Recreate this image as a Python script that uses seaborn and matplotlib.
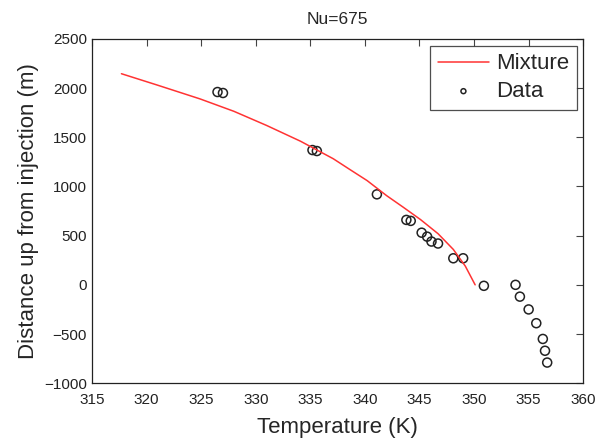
import matplotlib
matplotlib.use("Agg")
import matplotlib.pyplot as plt
import seaborn as sns
import pandas as pd

# Model curve (Mixture)
mix_temp = [317.7, 321.0, 324.9, 328.0, 331.0, 334.1, 337.1, 338.6, 340.2, 342.0, 343.5, 345.1, 346.7, 348.1, 349.2, 350.1]
mix_dist = [2146, 2030, 1890, 1764, 1620, 1460, 1282, 1174, 1060, 906, 790, 663, 520, 360, 190, 0]

# Measured data
data_temp = [326.5, 327.0, 335.2, 335.6, 341.1, 343.8, 344.2, 345.2, 345.7, 346.1, 346.7,
             348.1, 349.0, 350.9, 353.8, 354.2, 355.0, 355.7, 356.3, 356.5, 356.7]
data_dist = [1960, 1950, 1370, 1360, 920, 660, 650, 530, 490, 440, 420,
             270, 270, -10, 0, -120, -250, -390, -550, -670, -790]

sns.set_style("white")
plt.rcParams['font.family'] = ['Liberation Sans', 'DejaVu Sans']

fig = plt.figure(figsize=(6.05, 4.42), dpi=100)
ax = fig.add_axes([0.152, 0.133, 0.812, 0.779])

mix_df = pd.DataFrame({"T": mix_temp, "D": mix_dist})
dat_df = pd.DataFrame({"T": data_temp, "D": data_dist})

sns.lineplot(data=mix_df, x="T", y="D", ax=ax, color="#ff3333", lw=1.1,
             label="Mixture", sort=False)
sns.scatterplot(data=dat_df, x="T", y="D", ax=ax, marker="o", s=42,
                facecolor="none", edgecolor="#222222", linewidth=1.1,
                label="Data")

ax.set_xlim(315, 360)
ax.set_ylim(-1000, 2500)
ax.set_xticks(range(315, 361, 5))
ax.set_yticks(range(-1000, 2501, 500))
ax.tick_params(direction="in", top=True, right=True, length=5, labelsize=11,
               color="#444444", labelcolor="#222222")
ax.tick_params(axis="x", pad=7)
for s in ax.spines.values():
    s.set_color("#222222")
    s.set_linewidth(0.9)

ax.set_xlabel("Temperature (K)", fontsize=16, labelpad=7)
ax.set_ylabel("Distance up from injection (m)", fontsize=16, labelpad=4)
ax.set_title("Nu=675", fontsize=12.5, pad=11)

leg = ax.legend(loc="upper right", fontsize=16, frameon=True, fancybox=False,
                borderaxespad=0.3, handlelength=2.3, markerscale=0.55,
                borderpad=0.35, labelspacing=0.3, handletextpad=0.3)
leg.get_frame().set_edgecolor("#222222")
leg.get_frame().set_linewidth(0.9)

fig.savefig("out.png", dpi=100)
